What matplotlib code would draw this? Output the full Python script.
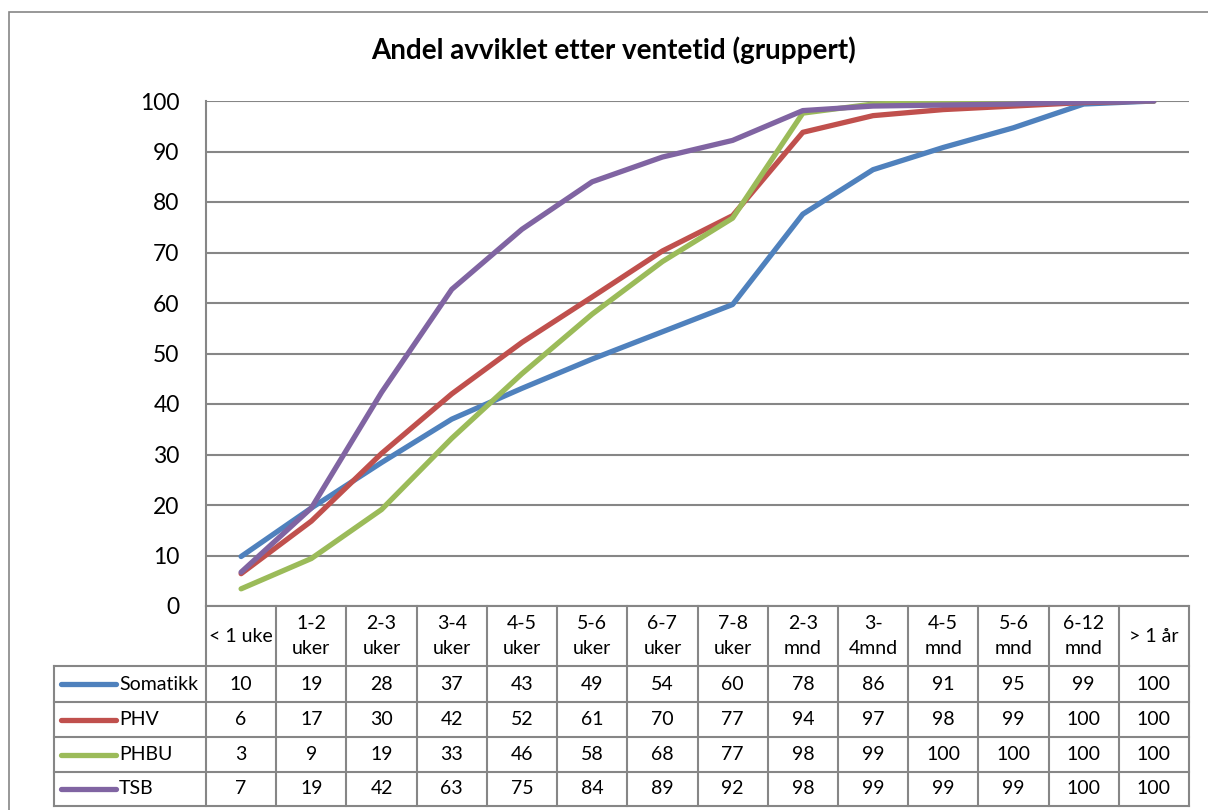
import matplotlib
matplotlib.use("Agg")
import matplotlib.pyplot as plt
from matplotlib.lines import Line2D
from matplotlib.patches import Rectangle

plt.rcParams['font.family'] = ['Lato', 'DejaVu Sans']

categories = ['< 1 uke', '1-2\nuker', '2-3\nuker', '3-4\nuker', '4-5\nuker', '5-6\nuker',
              '6-7\nuker', '7-8\nuker', '2-3\nmnd', '3-\n4mnd', '4-5\nmnd', '5-6\nmnd',
              '6-12\nmnd', '> 1 år']

somatikk = [9.8, 19.4, 28.4, 37.0, 43.1, 48.9, 54.3, 59.7, 77.6, 86.4, 90.8, 94.7, 99.4, 100]
phv = [6.4, 16.8, 30.2, 42.0, 52.2, 61.2, 70.3, 77.3, 93.8, 97.1, 98.3, 99.0, 99.7, 100]
phbu = [3.4, 9.4, 19.1, 33.2, 46.0, 57.8, 68.2, 76.8, 97.6, 99.4, 99.8, 99.9, 100, 100]
tsb = [6.7, 19.4, 42.3, 62.7, 74.6, 84.0, 88.9, 92.2, 98.1, 99.0, 99.2, 99.4, 99.8, 100]

series = [('Somatikk', somatikk, '#4F81BD'),
          ('PHV', phv, '#C0504D'),
          ('PHBU', phbu, '#9BBB59'),
          ('TSB', tsb, '#8064A2')]

W, H = 1208, 810
GRID = '#868686'

def fx(px):
    return px / W

def fy(py):
    return 1 - py / H

fig = plt.figure(figsize=(W / 100, H / 100), dpi=100)

# outer chart frame
fig.add_artist(Rectangle((fx(9), fy(830)), fx(1230) - fx(9), fy(12) - fy(830),
                         transform=fig.transFigure, fill=False, edgecolor=GRID, lw=1.2))

left, right, top, bottom = 206, 1189, 101, 606
ax = fig.add_axes([fx(left), fy(bottom), fx(right) - fx(left), fy(top) - fy(bottom)])

n = len(categories)
x = list(range(n))
for name, vals, col in series:
    ax.plot(x, vals, color=col, lw=3.8, solid_capstyle='round', solid_joinstyle='round')

ax.set_xlim(-0.5, n - 0.5)
ax.set_ylim(0, 100)
ax.set_yticks(range(0, 101, 10))
ax.set_xticks([])
ax.yaxis.grid(True, color=GRID, lw=1.5)
ax.set_axisbelow(True)
for s in ['top', 'right']:
    ax.spines[s].set_visible(False)
for s in ['left', 'bottom']:
    ax.spines[s].set_color(GRID)
    ax.spines[s].set_linewidth(1.5)
ax.tick_params(axis='y', length=0, pad=19, labelsize=16.5)

fig.text(fx(614), fy(50), 'Andel avviklet etter ventetid (gruppert)',
         ha='center', va='center', fontsize=20, fontweight='bold')

# data table below the plot
def hline(x0, x1, y):
    fig.add_artist(Line2D([fx(x0), fx(x1)], [fy(y), fy(y)], color=GRID, lw=1.5))

def vline(x, y0, y1):
    fig.add_artist(Line2D([fx(x), fx(x)], [fy(y0), fy(y1)], color=GRID, lw=1.5))

tab_left = 54
header_bottom = 666
row_edges = [666, 702, 737, 772, 806]
cw = (right - left) / n

for i in range(n + 1):
    vline(left + i * cw, bottom, row_edges[-1])
vline(tab_left, row_edges[0], row_edges[-1])
for y in row_edges:
    hline(tab_left, right, y)

for i, cat in enumerate(categories):
    fig.text(fx(left + (i + 0.5) * cw), fy((bottom + header_bottom) / 2), cat,
             ha='center', va='center', fontsize=14, linespacing=1.55)

for r, (name, vals, col) in enumerate(series):
    yc = (row_edges[r] + row_edges[r + 1]) / 2
    fig.add_artist(Line2D([fx(61), fx(116)], [fy(yc), fy(yc)], color=col, lw=3.8,
                          solid_capstyle='round'))
    fig.text(fx(119), fy(yc), name, ha='left', va='center', fontsize=14)
    for i, v in enumerate(vals):
        fig.text(fx(left + (i + 0.5) * cw), fy(yc), f'{v:.0f}',
                 ha='center', va='center', fontsize=14)

fig.savefig('out.png', dpi=100)
